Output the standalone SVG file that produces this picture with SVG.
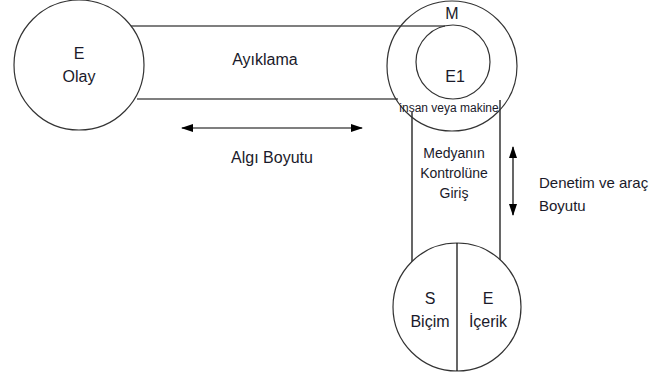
<svg xmlns="http://www.w3.org/2000/svg" width="661" height="378" viewBox="0 0 661 378">
<defs>
<marker id="ah" viewBox="0 0 12 10" refX="11" refY="5" markerWidth="12" markerHeight="10" markerUnits="userSpaceOnUse" orient="auto-start-reverse">
<path d="M0,1 L12,5 L0,9 Z" fill="#000"/>
</marker>
</defs>
<style>
.c{fill:#fff;stroke:#333;stroke-width:1.2}
.l{fill:none;stroke:#000;stroke-width:1.2}
.t{font-family:"Liberation Sans",Arial,sans-serif;fill:#1a1a2a;text-anchor:middle}
.b{font-size:16px}
.s{font-size:12px}
.k{font-size:14px}
.m{font-size:15px}
</style>
<rect width="661" height="378" fill="#fff"/>
<g id="connectors">
<line class="l" x1="130" y1="26" x2="445" y2="26"/>
<line class="l" x1="137" y1="99" x2="398" y2="99"/>
<line class="l" x1="412" y1="112" x2="412" y2="264"/>
<line class="l" x1="500" y1="100" x2="500" y2="260"/>
<line class="l" x1="182" y1="128" x2="362" y2="128" marker-start="url(#ah)" marker-end="url(#ah)"/>
<line class="l" x1="513" y1="147" x2="513" y2="215" marker-start="url(#ah)" marker-end="url(#ah)"/>
</g>
<g id="olay">
<circle class="c" cx="79" cy="65" r="65"/>
<text class="t b" x="79" y="59">E</text>
<text class="t b" x="79" y="82">Olay</text>
</g>
<g id="medya">
<circle class="c" cx="452" cy="66" r="65" style="fill:none"/>
<circle class="c" cx="453" cy="62" r="37" style="fill:none"/>
<text class="t b" x="452" y="19">M</text>
<text class="t b" x="455" y="82">E1</text>
<text class="t s" x="449" y="112">insan veya makine</text>
</g>
<g id="icerik">
<circle class="c" cx="457" cy="307" r="64"/>
<line class="l" x1="457" y1="243" x2="457" y2="371"/>
<text class="t b" x="430" y="304">S</text>
<text class="t b" x="430" y="327">Biçim</text>
<text class="t b" x="488" y="304">E</text>
<text class="t b" x="488" y="327">İçerik</text>
</g>
<g id="labels">
<text class="t b" x="265" y="65">Ayıklama</text>
<text class="t b" x="272" y="163">Algı Boyutu</text>
<text class="t k" x="454" y="158">Medyanın</text>
<text class="t k" x="454" y="178">Kontrolüne</text>
<text class="t k" x="454" y="198">Giriş</text>
<text class="t m" x="539" y="188" style="text-anchor:start">Denetim ve araç</text>
<text class="t m" x="539" y="211" style="text-anchor:start">Boyutu</text>
</g>
</svg>
